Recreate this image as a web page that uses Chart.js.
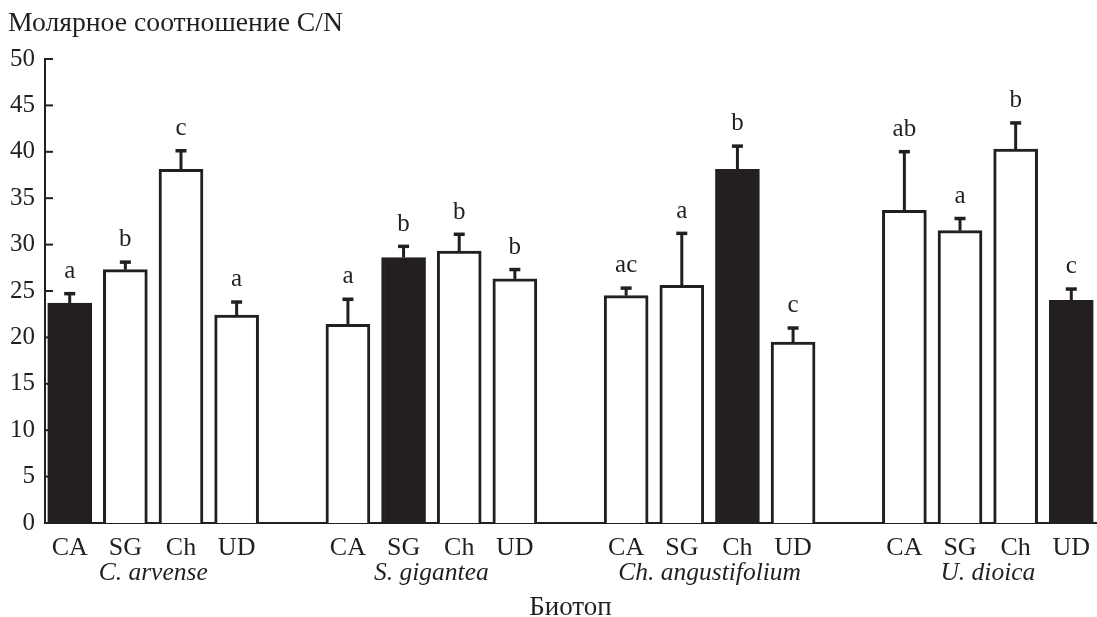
<!DOCTYPE html>
<html><head><meta charset="utf-8">
<script src="https://cdn.jsdelivr.net/npm/chart.js@4/dist/chart.umd.min.js"></script>
<style>html,body{margin:0;padding:0;background:#fff;}#wrap{width:1097px;height:617px;position:relative;}</style>
</head><body><div id="wrap"><canvas id="c"></canvas></div>
<script>
// ---- data ----
const species = ['C. arvense', 'S. gigantea', 'Ch. angustifolium', 'U. dioica'];
const biotopes = ['CA', 'SG', 'Ch', 'UD'];
const cArvense = [23.7, 27.3, 38.1, 22.4];
const sGigantea = [21.4, 28.6, 29.3, 26.3];
const chAngustifolium = [24.5, 25.6, 38.1, 19.5];
const uDioica = [33.7, 31.5, 40.3, 24.0];
const cArvenseErr = [1.2, 1.0, 2.2, 1.6];
const sGiganteaErr = [2.9, 1.4, 2.0, 1.2];
const chAngustifoliumErr = [1.0, 5.8, 2.7, 1.7];
const uDioicaErr = [6.5, 1.5, 3.0, 1.4];
const cArvenseLetters = ['a', 'b', 'c', 'a'];
const sGiganteaLetters = ['a', 'b', 'b', 'b'];
const chAngustifoliumLetters = ['ac', 'a', 'b', 'c'];
const uDioicaLetters = ['ab', 'a', 'b', 'c'];
const yTicks = [0, 5, 10, 15, 20, 25, 30, 35, 40, 45, 50];
const yTitle = 'Молярное соотношение C/N';
const xTitle = 'Биотоп';

// ---- build ----
const INK = '#231f20';
const FONT = '"Liberation Serif", "Times New Roman", serif';
const means = [cArvense, sGigantea, chAngustifolium, uDioica];
const errs = [cArvenseErr, sGiganteaErr, chAngustifoliumErr, uDioicaErr];
const letters = [cArvenseLetters, sGiganteaLetters, chAngustifoliumLetters, uDioicaLetters];
const SLOT = biotopes.length + 1;
const points = [], fills = [], barPos = [], barLabels = [];
means.forEach((arr, g) => arr.forEach((v, b) => {
  points.push({x: g * SLOT + b, y: v});
  fills.push(b === g ? INK : '#ffffff');
  barPos.push(g * SLOT + b);
  barLabels.push(biotopes[b]);
}));
const groupPos = species.map((s, g) => g * SLOT + (biotopes.length - 1) / 2);
const xMin = -0.444, xMax = (species.length - 1) * SLOT + biotopes.length - 1 + 0.444;

const extras = {
  id: 'extras',
  afterDatasetsDraw(chart) {
    const {ctx, chartArea, scales: {x, y}} = chart;
    ctx.save();
    ctx.strokeStyle = INK; ctx.fillStyle = INK;
    ctx.lineCap = 'butt';
    // inward y ticks
    ctx.lineWidth = 2;
    yTicks.forEach(t => {
      const py = y.getPixelForValue(t);
      ctx.beginPath(); ctx.moveTo(chartArea.left, py); ctx.lineTo(chartArea.left + 8, py); ctx.stroke();
    });
    // error bars + letters
    ctx.font = '25px ' + FONT; ctx.textAlign = 'center'; ctx.textBaseline = 'alphabetic';
    means.forEach((arr, g) => arr.forEach((v, b) => {
      const px = x.getPixelForValue(g * SLOT + b);
      const yb = y.getPixelForValue(v);
      const yt = y.getPixelForValue(v + errs[g][b]);
      ctx.lineWidth = 3;
      ctx.beginPath(); ctx.moveTo(px, yb); ctx.lineTo(px, yt + 1.5); ctx.stroke();
      ctx.lineWidth = 3.5;
      ctx.beginPath(); ctx.moveTo(px - 5.5, yt + 1.75); ctx.lineTo(px + 5.5, yt + 1.75); ctx.stroke();
      ctx.fillText(letters[g][b], px, yt - 14);
    }));
    ctx.restore();
  }
};

new Chart(document.getElementById('c'), {
  type: 'bar',
  data: {
    datasets: [{
      data: points,
      backgroundColor: fills,
      borderColor: INK,
      borderWidth: 3,
      borderSkipped: 'start',
      barThickness: 44
    }]
  },
  options: {
    responsive: true,
    maintainAspectRatio: false,
    animation: false,
    events: [],
    layout: {padding: {left: 8, right: 1, top: 0, bottom: 0}},
    plugins: {
      legend: {display: false},
      tooltip: {enabled: false},
      title: {
        display: true, text: yTitle, align: 'start', color: INK,
        font: {family: FONT, size: 27.7, weight: 'normal', lineHeight: 1.2},
        padding: {top: 7.5, bottom: 18.26}
      }
    },
    scales: {
      x: {
        type: 'linear', position: 'bottom', min: xMin, max: xMax, offset: false,
        grid: {display: false, drawTicks: false, offset: false},
        border: {display: true, color: INK, width: 2},
        afterBuildTicks: (s) => { s.ticks = barPos.map(v => ({value: v})); },
        afterFit: (s) => { s.height = 34; },
        ticks: {
          autoSkip: false, maxRotation: 0, padding: 0, color: INK,
          font: {family: FONT, size: 26, lineHeight: 1.9},
          callback: (v, i) => barLabels[i]
        }
      },
      x2: {
        type: 'linear', position: 'bottom', min: xMin, max: xMax, offset: false,
        grid: {display: false, drawTicks: false, offset: false},
        border: {display: false},
        afterBuildTicks: (s) => { s.ticks = groupPos.map(v => ({value: v})); },
        afterFit: (s) => { s.height = 60; },
        ticks: {
          autoSkip: false, maxRotation: 0, padding: 1, color: INK,
          font: {family: FONT, size: 25.5, style: 'italic'},
          callback: (v, i) => species[i]
        },
        title: {
          display: true, text: xTitle, color: INK,
          font: {family: FONT, size: 27, lineHeight: 0.7},
          padding: {top: 0, bottom: 0}
        }
      },
      y: {
        min: 0, max: 50,
        grid: {display: false, drawTicks: false},
        border: {display: true, color: INK, width: 2},
        afterBuildTicks: (s) => { s.ticks = yTicks.map(v => ({value: v})); },
        afterFit: (s) => { s.width = 37; },
        ticks: {padding: 10, color: INK, font: {family: FONT, size: 25}}
      }
    }
  },
  plugins: [extras]
});
</script>
</body></html>
